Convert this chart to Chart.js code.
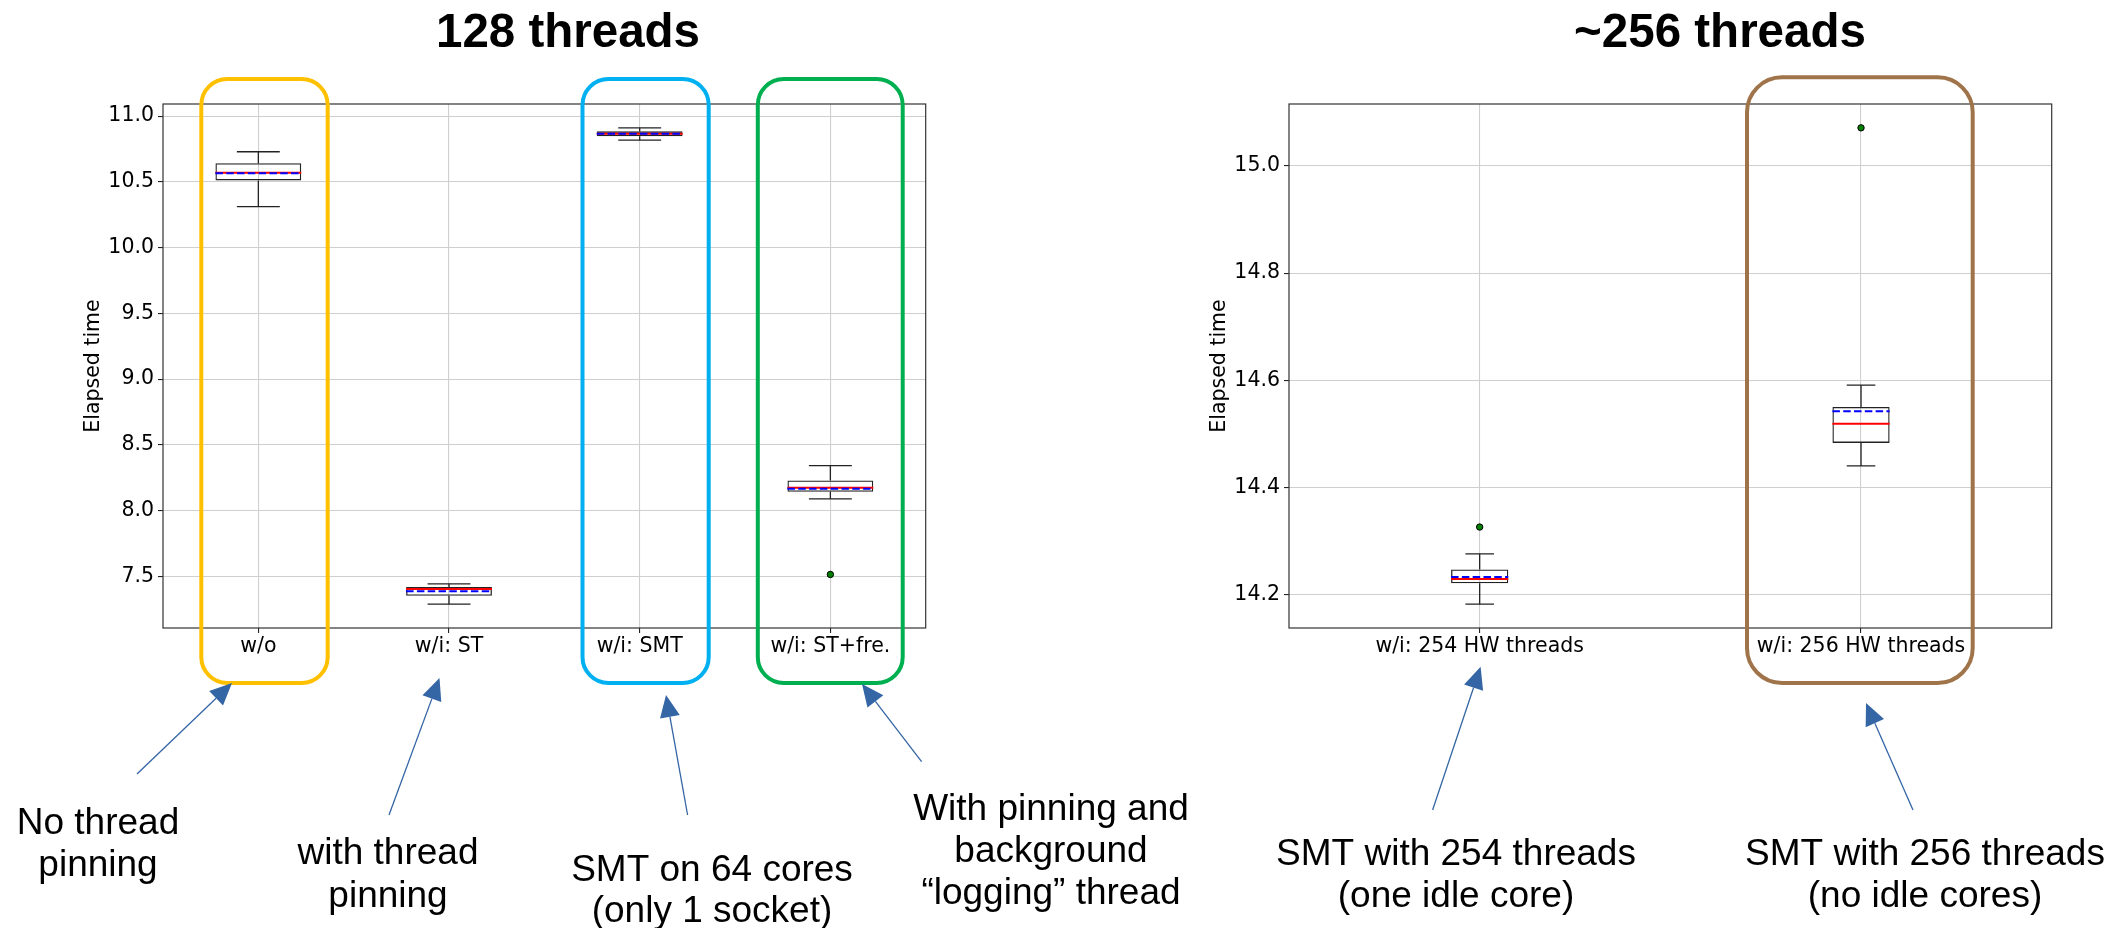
<!DOCTYPE html>
<html><head><meta charset="utf-8">
<script src="https://cdn.jsdelivr.net/npm/chart.js@4.4.1/dist/chart.umd.min.js"></script>
<style>
html,body{margin:0;padding:0;background:#fff;width:2120px;height:928px;overflow:hidden;}
#wrap{position:relative;width:2120px;height:928px;background:#fff;}
canvas{position:absolute;top:0;}
#c1{left:0;} #c2{left:1060px;}
</style></head><body>
<div id="wrap">
<canvas id="c1" width="1250" height="928" style="width:1250px;height:928px"></canvas>
<canvas id="c2" width="1060" height="928" style="width:1060px;height:928px"></canvas>
</div>
<script>
// ---------- data: 128 threads ----------
const leftCategories   = ['w/o', 'w/i: ST', 'w/i: SMT', 'w/i: ST+fre.'];
const leftWhiskerLow   = [10.311, 7.289, 10.818, 8.090];
const leftQ1           = [10.511, 7.353, 10.846, 8.143];
const leftMedian       = [10.569, 7.404, 10.866, 8.175];
const leftMean         = [10.565, 7.388, 10.865, 8.166];
const leftQ3           = [10.641, 7.419, 10.884, 8.229];
const leftWhiskerHigh  = [10.729, 7.444, 10.911, 8.343];
const leftOutlierCats  = ['w/i: ST+fre.'];
const leftOutlierVals  = [7.515];
const leftTicks        = [7.5, 8.0, 8.5, 9.0, 9.5, 10.0, 10.5, 11.0];
const leftRange        = [7.108, 11.092];

// ---------- data: ~256 threads ----------
const rightCategories  = ['w/i: 254 HW threads', 'w/i: 256 HW threads'];
const rightWhiskerLow  = [14.182, 14.440];
const rightQ1          = [14.221, 14.483];
const rightMedian      = [14.229, 14.519];
const rightMean        = [14.233, 14.542];
const rightQ3          = [14.247, 14.550];
const rightWhiskerHigh = [14.276, 14.591];
const rightOutlierCats = ['w/i: 254 HW threads', 'w/i: 256 HW threads'];
const rightOutlierVals = [14.326, 15.071];
const rightTicks       = [14.2, 14.4, 14.6, 14.8, 15.0];
const rightRange       = [14.1376, 15.1155];

// ---------- annotation text ----------
const leftTitle  = '128 threads';
const rightTitle = '~256 threads';
const leftNotes  = [['No thread', 'pinning'], ['with thread', 'pinning'], ['SMT on 64 cores', '(only 1 socket)'], ['With pinning and', 'background', '\u201clogging\u201d thread']];
const rightNotes = [['SMT with 254 threads', '(one idle core)'], ['SMT with 256 threads', '(no idle cores)']];

const TICK_FONT = {family: 'DejaVu Sans', size: 20.5};
const GRID = '#cfcfcf';
const EDGE = '#222';
const ARROW = '#3465a4';

function roundBox(ctx, x0, y0, x1, y1, r, color) {
  ctx.save(); ctx.strokeStyle = color; ctx.lineWidth = 4;
  ctx.beginPath(); ctx.roundRect(x0, y0, x1 - x0, y1 - y0, r); ctx.stroke(); ctx.restore();
}
function arrow(ctx, x0, y0, x1, y1) {
  const L = 22, W = 10, dx = x1 - x0, dy = y1 - y0, len = Math.hypot(dx, dy), ux = dx / len, uy = dy / len;
  const bx = x1 - ux * L, by = y1 - uy * L;
  ctx.save(); ctx.strokeStyle = ARROW; ctx.fillStyle = ARROW; ctx.lineWidth = 1.3;
  ctx.beginPath(); ctx.moveTo(x0, y0); ctx.lineTo(bx, by); ctx.stroke();
  ctx.beginPath(); ctx.moveTo(x1, y1); ctx.lineTo(bx - uy * W, by + ux * W); ctx.lineTo(bx + uy * W, by - ux * W); ctx.closePath(); ctx.fill();
  ctx.restore();
}
function note(ctx, lines, x, y, dy) {
  ctx.save(); ctx.fillStyle = '#000'; ctx.font = '37px "Liberation Sans", Arial, sans-serif';
  ctx.textAlign = 'center'; ctx.textBaseline = 'alphabetic';
  lines.forEach((t, i) => ctx.fillText(t, x, y + i * dy)); ctx.restore();
}
function title(ctx, t, x, y) {
  ctx.save(); ctx.fillStyle = '#000'; ctx.font = 'bold 47.5px "Liberation Sans", Arial, sans-serif';
  ctx.textAlign = 'center'; ctx.textBaseline = 'alphabetic'; ctx.fillText(t, x, y); ctx.restore();
}

function boxChart(id, o) {
  const n = o.categories.length;
  const halfBox = c => c.chart.chartArea ? c.chart.chartArea.width / n * o.boxFrac / 2 : 0;
  const halfCap = c => halfBox(c) / 2;
  const decor = {
    id: 'decor_' + id,
    beforeDatasetDraw(chart, args) { const ds = chart.data.datasets[args.index]; if (ds.meanDash) { chart.ctx.save(); chart.ctx.setLineDash(ds.meanDash); } },
    afterDatasetDraw(chart, args) { const ds = chart.data.datasets[args.index]; if (ds.meanDash) chart.ctx.restore(); },
    afterDraw(chart) {
      const ctx = chart.ctx, a = chart.chartArea;
      ctx.save(); ctx.strokeStyle = '#333'; ctx.lineWidth = 1.2;
      ctx.strokeRect(a.left, a.top, a.width, a.height); ctx.restore();
      o.annotate(ctx);
    }
  };
  const lineBase = {type: 'line', showLine: false, pointHoverRadius: 0};
  return new Chart(document.getElementById(id), {
    type: 'bar',
    data: {
      labels: o.categories,
      datasets: [
        Object.assign({}, lineBase, {label: 'mean', data: o.mean, pointStyle: 'line', pointRadius: halfBox, pointBorderColor: '#0000ff', pointBorderWidth: 2, meanDash: [7.5, 3.3], order: 0}),
        Object.assign({}, lineBase, {label: 'median', data: o.median, pointStyle: 'line', pointRadius: halfBox, pointBorderColor: '#ff0000', pointBorderWidth: 2, order: 1}),
        Object.assign({}, lineBase, {label: 'outliers', data: o.outCats.map((c, i) => ({x: c, y: o.outVals[i]})), pointStyle: 'circle', pointRadius: 3.2, pointBackgroundColor: '#008000', pointBorderColor: '#000', pointBorderWidth: 1, order: 2}),
        {type: 'bar', label: 'box', data: o.q1.map((v, i) => [v, o.q3[i]]), backgroundColor: 'rgba(0,0,0,0)', borderColor: EDGE, borderWidth: 1.3, borderSkipped: false, grouped: false, barPercentage: o.boxFrac, categoryPercentage: 1, order: 3},
        Object.assign({}, lineBase, {label: 'capHigh', data: o.whiHigh, pointStyle: 'line', pointRadius: halfCap, pointBorderColor: EDGE, pointBorderWidth: 1.3, order: 4}),
        Object.assign({}, lineBase, {label: 'capLow', data: o.whiLow, pointStyle: 'line', pointRadius: halfCap, pointBorderColor: EDGE, pointBorderWidth: 1.3, order: 4}),
        {type: 'bar', label: 'whiskerHigh', data: o.q3.map((v, i) => [v, o.whiHigh[i]]), backgroundColor: EDGE, borderWidth: 0, maxBarThickness: 1.3, inflateAmount: 0, grouped: false, barPercentage: 1, categoryPercentage: 1, order: 5},
        {type: 'bar', label: 'whiskerLow', data: o.whiLow.map((v, i) => [v, o.q1[i]]), backgroundColor: EDGE, borderWidth: 0, maxBarThickness: 1.3, inflateAmount: 0, grouped: false, barPercentage: 1, categoryPercentage: 1, order: 5}
      ]
    },
    options: {
      responsive: false, maintainAspectRatio: false, animation: false, events: [],
      layout: {padding: o.padding},
      plugins: {legend: {display: false}, tooltip: {enabled: false}, title: {display: false}},
      scales: {
        x: {
          type: 'category', offset: true,
          grid: {offset: false, color: GRID, lineWidth: 1.1, drawTicks: true, tickLength: 5, tickColor: '#222', tickWidth: 1.1},
          border: {display: false},
          ticks: {color: '#000', font: TICK_FONT, padding: 1, maxRotation: 0, autoSkip: false},
          afterFit: s => { s.height = 40; }
        },
        y: {
          type: 'linear', min: o.range[0], max: o.range[1],
          afterBuildTicks: s => { s.ticks = o.ticks.map(v => ({value: v})); },
          afterFit: s => { s.width = 80; },
          grid: {color: GRID, lineWidth: 1.1, drawTicks: true, tickLength: 5, tickColor: '#222', tickWidth: 1.1},
          border: {display: false},
          ticks: {color: '#000', font: TICK_FONT, padding: 4, callback: v => Number(v).toFixed(1)},
          title: {display: true, text: 'Elapsed time', color: '#000', font: {family: 'DejaVu Sans', size: 20.5, lineHeight: 1}, padding: 0}
        }
      }
    },
    plugins: [decor]
  });
}

boxChart('c1', {
  categories: leftCategories, whiLow: leftWhiskerLow, q1: leftQ1, median: leftMedian, mean: leftMean, q3: leftQ3, whiHigh: leftWhiskerHigh,
  outCats: leftOutlierCats, outVals: leftOutlierVals, ticks: leftTicks, range: leftRange, boxFrac: 0.45,
  padding: {left: 83, right: 324.3, top: 104, bottom: 260},
  annotate(ctx) {
    title(ctx, leftTitle, 568, 46.7);
    roundBox(ctx, 201.3, 79, 327.7, 683, 26, '#ffc000');
    roundBox(ctx, 582.5, 79, 708.7, 683, 26, '#00b0f0');
    roundBox(ctx, 757.8, 79, 902.7, 683, 26, '#00b050');
    arrow(ctx, 137, 774, 232, 683);
    arrow(ctx, 389, 815, 439.5, 678);
    arrow(ctx, 687.6, 815, 666, 695);
    arrow(ctx, 921.6, 761.7, 862, 684);
    note(ctx, leftNotes[0], 98, 834, 42);
    note(ctx, leftNotes[1], 388, 864, 43);
    note(ctx, leftNotes[2], 712, 881, 41);
    note(ctx, leftNotes[3], 1051, 820, 42);
  }
});

const OX = 1060;
boxChart('c2', {
  categories: rightCategories, whiLow: rightWhiskerLow, q1: rightQ1, median: rightMedian, mean: rightMean, q3: rightQ3, whiHigh: rightWhiskerHigh,
  outCats: rightOutlierCats, outVals: rightOutlierVals, ticks: rightTicks, range: rightRange, boxFrac: 0.15,
  padding: {left: 149, right: 68.3, top: 104, bottom: 260},
  annotate(ctx) {
    title(ctx, rightTitle, 1720 - OX, 46.7);
    roundBox(ctx, 1747 - OX, 77.3, 1972.7 - OX, 683, 35, '#a0744a');
    arrow(ctx, 1432.6 - OX, 810, 1480.6 - OX, 666.7);
    arrow(ctx, 1913 - OX, 810, 1866 - OX, 703);
    note(ctx, rightNotes[0], 1456 - OX, 865, 42);
    note(ctx, rightNotes[1], 1925 - OX, 865, 42);
  }
});
</script>
</body></html>
